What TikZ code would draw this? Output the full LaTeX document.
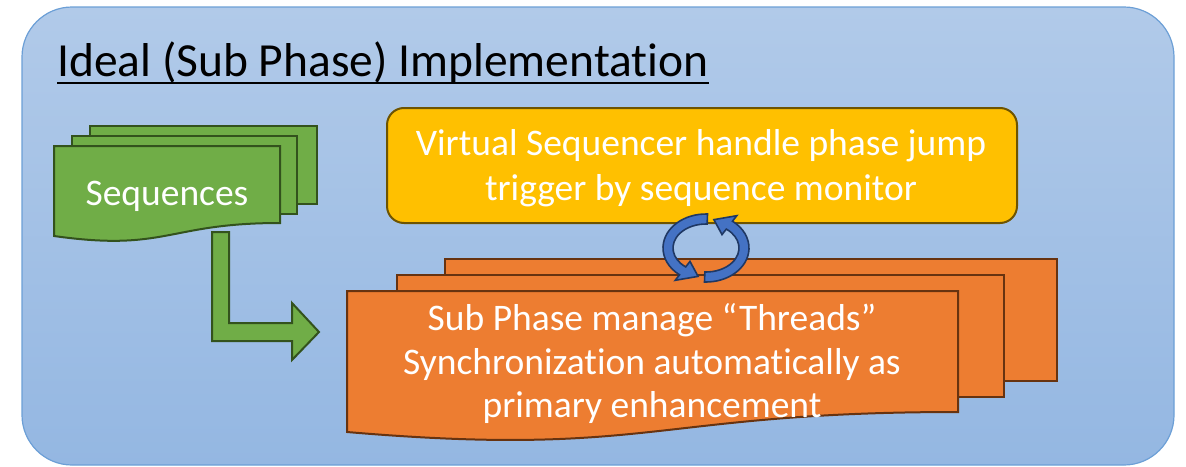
\documentclass[tikz,border=0pt]{standalone}
\usepackage{fontspec}
\setmainfont{Carlito}[Ligatures=NoCommon]
\usetikzlibrary{calc}
\definecolor{bgtop}{HTML}{B1CAE9}
\definecolor{bgbot}{HTML}{94B7E2}
\definecolor{bgline}{HTML}{6C9FD6}
\definecolor{grfill}{HTML}{70AD47}
\definecolor{grline}{HTML}{33521D}
\definecolor{orfill}{HTML}{ED7D31}
\definecolor{orline}{HTML}{673310}
\definecolor{yefill}{HTML}{FFC000}
\definecolor{yeline}{HTML}{6E5400}
\definecolor{blfill}{HTML}{4472C4}
\definecolor{blline}{HTML}{1F3864}
\tikzset{
  greenshape/.style={fill=grfill, draw=grline, line width=2pt, line join=miter},
  orangeshape/.style={fill=orfill, draw=orline, line width=2pt, line join=miter},
  yellowshape/.style={fill=yefill, draw=yeline, line width=2pt},
  cyclearrow/.style={fill=blfill, draw=blline, line width=1.6pt, line join=miter},
  bodytext/.style={text=white, inner sep=0pt, anchor=base, font=\fontsize{37.5}{44}\selectfont},
}
\begin{document}
\begin{tikzpicture}[x=1pt,y=1pt]
\useasboundingbox (0,0) rectangle (1186,-466);
% background panel
\path[top color=bgtop, bottom color=bgbot, draw=bgline, line width=1.2pt, rounded corners=50pt]
  (22,-7) rectangle (1174,-465);
% title
\node[anchor=base west, inner sep=0pt, font=\fontsize{47.5}{56}\selectfont] (title) at (57,-76) {Ideal (Sub Phase) Implementation};
\draw[line width=2.5pt] ($(title.base west)+(0,-7)$) -- ($(title.base east)+(0,-7)$);

% green bent arrow
\path[greenshape] (212,-232) -- (229,-232) -- (229,-323) -- (292,-323) -- (292,-303)
  -- (319,-332) -- (292,-360) -- (292,-341) -- (212,-341) -- cycle;
% green multidocument
\path[greenshape] (90,-126) rectangle (317,-204);
\path[greenshape] (72,-136) rectangle (297,-214);
\path[greenshape] (54,-146) -- (280,-146) -- (280,-223)
  .. controls (167,-223) and (167,-252) .. (54,-236) -- cycle;
\node[bodytext] (seq) at (167,-205) {Sequences};

% yellow box
\path[yellowshape, rounded corners=17pt] (387,-108) rectangle (1017,-223);
\node[bodytext] (y1) at (701,-155) {Virtual Sequencer handle phase jump};
\node[bodytext] (y2) at (701,-200) {trigger by sequence monitor};

% orange multidocument
\path[orangeshape] (445,-259) rectangle (1057,-381);
\path[orangeshape] (397,-275) rectangle (1004,-397);
\path[orangeshape] (347,-291) -- (958,-291) -- (958,-412)
  .. controls (652,-412) and (652,-458) .. (347,-432) -- cycle;
\node[bodytext] (o1) at (652,-330) {Sub Phase manage “Threads”};
\node[bodytext] (o2) at (652,-374) {Synchronization automatically as};
\node[bodytext] (o3) at (652,-417) {primary enhancement};

% circular arrows
\coordinate (c) at (706,-248);
\path[cyclearrow] ($(c)+(88:43 and 34)$)
  arc[start angle=88, end angle=232, x radius=43, y radius=34]
  -- ($(c)+(232:50 and 41)$) -- ($(c)+(258:38 and 29)$) -- ($(c)+(232:26 and 17)$)
  -- ($(c)+(232:33 and 24)$)
  arc[start angle=232, end angle=88, x radius=33, y radius=24] -- cycle;
\path[cyclearrow] ($(c)+(268:43 and 34)$)
  arc[start angle=268, end angle=412, x radius=43, y radius=34]
  -- ($(c)+(412:50 and 41)$) -- ($(c)+(438:38 and 29)$) -- ($(c)+(412:26 and 17)$)
  -- ($(c)+(412:33 and 24)$)
  arc[start angle=412, end angle=268, x radius=33, y radius=24] -- cycle;
\end{tikzpicture}
\end{document}
